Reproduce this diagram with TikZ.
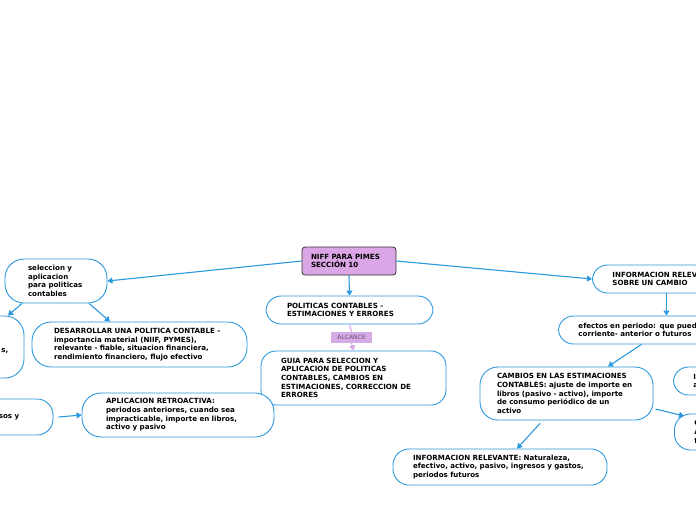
\documentclass[tikz,border=0pt]{standalone}
\usepackage{fontspec}
\setmainfont{DejaVu Sans}
\usetikzlibrary{arrows.meta,calc}
\definecolor{mblue}{RGB}{44,152,222}
\definecolor{mplum}{RGB}{218,166,230}
\definecolor{malc}{RGB}{214,170,228}
\definecolor{malctext}{RGB}{105,80,120}
\newcommand{\mfont}{\fontsize{7.1pt}{8.6pt}\selectfont\bfseries}
\begin{document}
\begin{tikzpicture}[x=1pt,y=-1pt,
  mbox/.style={draw=mblue, line width=0.9pt, rounded corners=15pt, fill=white,
    font=\mfont, align=left, inner ysep=0pt, anchor=center},
  conn/.style={draw=mblue, line width=1.1pt, -{Triangle[length=5pt,width=6pt]}},
  pconn/.style={draw=malc, line width=1.1pt},
  ]
\useasboundingbox (0,0) rectangle (696,520);
\fill[white] (0,0) rectangle (696,520);

% central
\node[draw=black!80, line width=0.8pt, rounded corners=3pt, fill=mplum, font=\mfont,
  align=left, inner xsep=9pt, text width=76pt, minimum height=28pt] (title) at (349,261)
  {NIFF PARA PIMES\\SECCIÓN 10};
\node[mbox, inner xsep=21pt, text width=125pt, minimum height=28pt] (pol) at (349.5,310)
  {POLITICAS CONTABLES -\\ESTIMACIONES Y ERRORES};
\node[fill=malc, font=\fontsize{6pt}{7pt}\selectfont, text=malctext, inner sep=0pt,
  minimum width=41pt, minimum height=11pt] (alc) at (351.5,337.5) {ALCANCE};
\node[mbox, inner xsep=20pt, text width=145pt, minimum height=54pt] (guia) at (353.5,378)
  {GUIA PARA SELECCION Y\\APLICACION DE POLITICAS\\CONTABLES, CAMBIOS EN\\ESTIMACIONES, CORRECCION DE\\ERRORES};

% left
\node[mbox, inner xsep=23pt, text width=56pt, minimum height=44pt, rounded corners=19pt] (sel) at (56,281)
  {seleccion y\\aplicacion\\para politicas\\contables};
\node[mbox, inner xsep=22pt, text width=171pt, minimum height=45pt, rounded corners=19pt] (des) at (139.5,344.5)
  {DESARROLLAR UNA POLITICA CONTABLE -\\importancia material (NIIF, PYMES),\\relevante - fiable, situacion financiera,\\rendimiento financiero, flujo efectivo};
\node[mbox, inner sep=0pt, minimum width=84pt, minimum height=62pt, rounded corners=19pt] (lp1) at (-18,347) {};
\node[font=\mfont, anchor=east, inner sep=0pt] (lp1t) at (lp1.east) [xshift=-16pt,yshift=-4pt] {s,};
\node[mbox, inner sep=0pt, minimum width=113pt, minimum height=36pt, rounded corners=16pt] (lp2) at (-3.5,417) {};
\node[font=\mfont, anchor=east, inner sep=0pt] (lp2t) at (lp2.east) [xshift=-34pt] {sos y};
\node[mbox, inner xsep=24pt, text width=144pt, minimum height=44pt, rounded corners=19pt] (apl) at (178,415)
  {APLICACION RETROACTIVA:\\periodos anteriores, cuando sea\\impracticable, importe en libros,\\activo y pasivo};

% right
\node[mbox, inner xsep=20pt, text width=128pt, minimum height=28pt, anchor=west] (info) at (592,279)
  {INFORMACION RELEVANTE\\SOBRE UN CAMBIO};
\node[mbox, inner xsep=20pt, text width=162pt, minimum height=28pt, anchor=west] (efe) at (558,330)
  {efectos en periodo: que pueden ser\\corriente- anterior o futuros};
\node[mbox, inner xsep=17pt, text width=139pt, minimum height=53pt, rounded corners=18pt] (cam) at (566.5,393.5)
  {CAMBIOS EN LAS ESTIMACIONES\\CONTABLES: ajuste de importe en\\libros (pasivo - activo), importe\\de consumo periódico de un\\activo};
\node[mbox, inner xsep=20pt, text width=174pt, minimum height=36pt, rounded corners=16pt] (inr) at (500,467)
  {INFORMACION RELEVANTE: Naturaleza,\\efectivo, activo, pasivo, ingresos y gastos,\\periodos futuros};
\node[mbox, inner xsep=20pt, text width=60pt, minimum height=28pt, anchor=west] (rp1) at (673,381)
  {INFORMACION\\afecta};
\node[mbox, inner xsep=20pt, text width=60pt, minimum height=36pt, anchor=west, rounded corners=16pt] (rp2) at (674,432)
  {CAMBIOS\\ANTERIORES\\futuros};

% connectors
\draw[conn] (title.west) -- (sel.east);
\draw[conn] (title.east) -- (info.west);
\draw[conn] (title.south) -- (pol.north);
\draw[pconn] (pol.south) -- (alc.north);
\draw[pconn, -{Triangle[length=5pt,width=6pt]}] (alc.south) -- (guia.north);
\draw[conn] ([xshift=-34pt]sel.south) -- ([xshift=26pt]lp1.north);
\draw[conn] ([xshift=33pt]sel.south) -- ([xshift=-29.5pt]des.north);
\draw[conn] ([xshift=5pt]lp2.east) -- (apl.west);
\draw[conn] ([xshift=-10pt]info.south) -- ([xshift=7pt]efe.north);
\draw[conn] ([xshift=-18pt]efe.south) -- ([xshift=41.5pt]cam.north);
\draw[conn] ([xshift=-26.5pt,yshift=-3pt]cam.south) -- ([xshift=17pt]inr.north);
\draw[conn] ([xshift=2pt,yshift=-15.5pt]cam.east) -- ([xshift=10pt,yshift=16pt]rp2.west);
\end{tikzpicture}
\end{document}
